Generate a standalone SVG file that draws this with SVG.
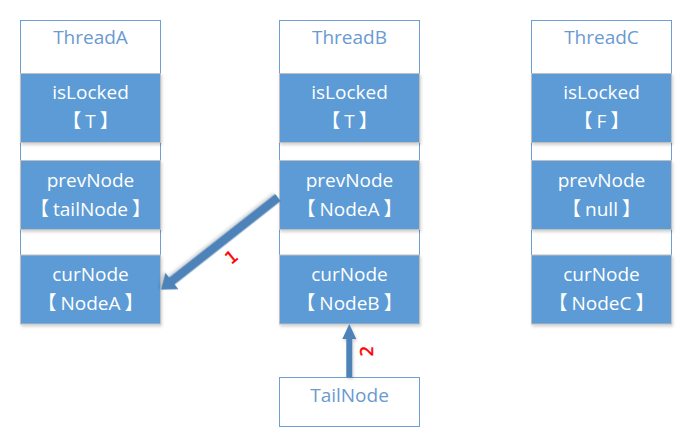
<svg xmlns="http://www.w3.org/2000/svg" width="688" height="441" viewBox="0 0 688 441">
<defs>
<filter id="sh" x="-10%" y="-10%" width="130%" height="130%">
<feDropShadow dx="1" dy="2" stdDeviation="1.5" flood-color="#000" flood-opacity="0.18"/>
</filter>
<style>
.outer{fill:#fff;stroke:#6d9fd4;stroke-width:1}
.cell{fill:#5b9bd5;stroke:#bfbfbf;stroke-width:1;filter:url(#sh)}
.t{font-family:"Open Sans","Noto Sans CJK SC",sans-serif;font-size:19px;text-anchor:middle}
.title{fill:#6a9ad0}
.w{fill:#fff}
.arrow{fill:#4e83b9;filter:url(#sh)}
.lbl{font-family:"DejaVu Sans",sans-serif;font-size:17px;fill:#ff0000;text-anchor:middle;stroke:#ff0000;stroke-width:0.4}
</style>
</defs>
<rect width="688" height="441" fill="#fff"/>

<g id="threadA">
<rect class="outer" x="20.5" y="20.5" width="140" height="303"/>
<text class="t title" x="90.5" y="44">ThreadA</text>
<rect class="cell" x="20.5" y="73.5" width="140" height="69"/>
<text class="t w" x="90.5" y="99">isLocked</text>
<text class="t w" x="90.5" y="128">【<tspan dx="4">T</tspan><tspan dx="4">】</tspan></text>
<rect class="cell" x="20.5" y="160.5" width="140" height="69"/>
<text class="t w" x="90.5" y="187">prevNode</text>
<text class="t w" x="90.5" y="216">【<tspan dx="4">tailNode</tspan><tspan dx="4">】</tspan></text>
<rect class="cell" x="20.5" y="255" width="140" height="69"/>
<text class="t w" x="90.5" y="281">curNode</text>
<text class="t w" x="90.5" y="310">【<tspan dx="4">NodeA</tspan><tspan dx="4">】</tspan></text>
</g>

<g id="threadB">
<rect class="outer" x="279.5" y="20.5" width="140" height="303"/>
<text class="t title" x="349.5" y="44">ThreadB</text>
<rect class="cell" x="279.5" y="73.5" width="140" height="69"/>
<text class="t w" x="349.5" y="99">isLocked</text>
<text class="t w" x="349.5" y="128">【<tspan dx="4">T</tspan><tspan dx="4">】</tspan></text>
<rect class="cell" x="279.5" y="160.5" width="140" height="69"/>
<text class="t w" x="349.5" y="187">prevNode</text>
<text class="t w" x="349.5" y="216">【<tspan dx="4">NodeA</tspan><tspan dx="4">】</tspan></text>
<rect class="cell" x="279.5" y="255" width="140" height="69"/>
<text class="t w" x="349.5" y="281">curNode</text>
<text class="t w" x="349.5" y="310">【<tspan dx="4">NodeB</tspan><tspan dx="4">】</tspan></text>
</g>

<g id="threadC">
<rect class="outer" x="531.5" y="20.5" width="140" height="303"/>
<text class="t title" x="601.5" y="44">ThreadC</text>
<rect class="cell" x="531.5" y="73.5" width="140" height="69"/>
<text class="t w" x="601.5" y="99">isLocked</text>
<text class="t w" x="601.5" y="128">【<tspan dx="4">F</tspan><tspan dx="4">】</tspan></text>
<rect class="cell" x="531.5" y="160.5" width="140" height="69"/>
<text class="t w" x="601.5" y="187">prevNode</text>
<text class="t w" x="601.5" y="216">【<tspan dx="4">null</tspan><tspan dx="4">】</tspan></text>
<rect class="cell" x="531.5" y="255" width="140" height="69"/>
<text class="t w" x="601.5" y="281">curNode</text>
<text class="t w" x="601.5" y="310">【<tspan dx="4">NodeC</tspan><tspan dx="4">】</tspan></text>
</g>

<g id="tailNode">
<rect class="outer" x="279.5" y="377.5" width="140" height="49"/>
<text class="t title" x="349.5" y="402">TailNode</text>
</g>

<g id="connectors">
<polygon class="arrow" transform="translate(278,197.5) rotate(141.8)" points="0,-4.5 135,-4.5 135,-10.5 149,0 135,10.5 135,4.5 0,4.5"/>
<polygon class="arrow" points="346.3,377 346.3,339 342.3,339 349.3,324 356.3,339 352.3,339 352.3,377"/>
<text class="lbl" transform="translate(231.5,257) rotate(-39)" x="0" y="6">1</text>
<text class="lbl" transform="translate(367,351) rotate(-90)" x="0" y="6">2</text>
</g>
</svg>
